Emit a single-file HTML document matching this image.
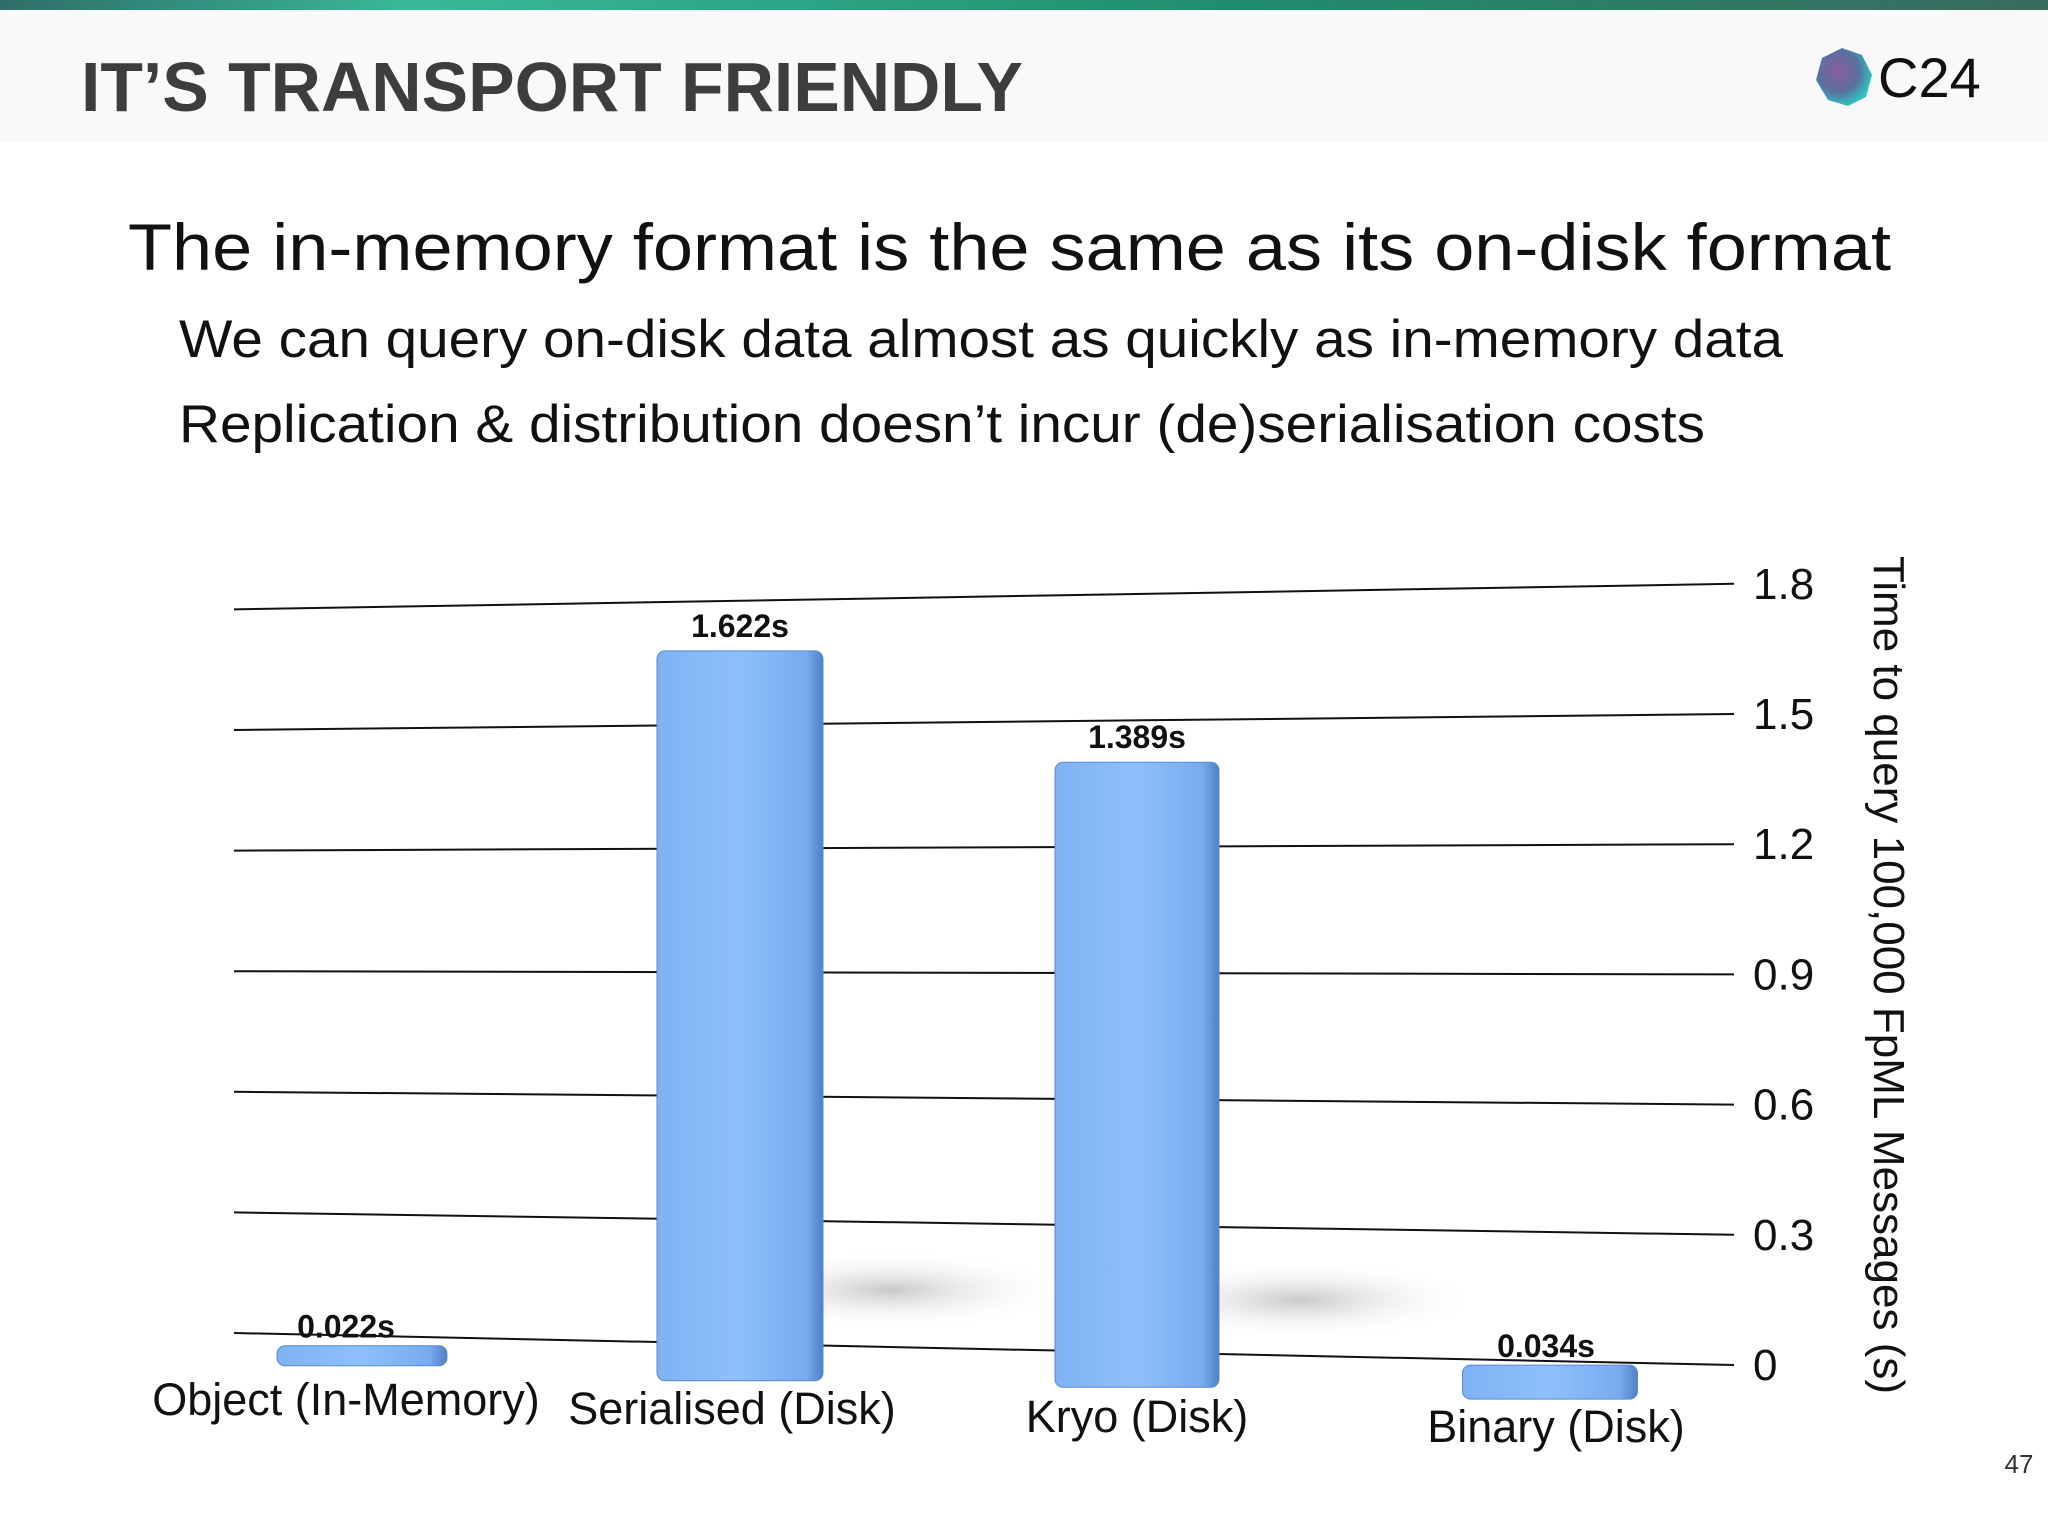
<!DOCTYPE html>
<html><head><meta charset="utf-8"><style>
html,body{margin:0;padding:0;width:2048px;height:1536px;background:#fff;overflow:hidden;font-family:"Liberation Sans",sans-serif}
</style></head><body>
<svg width="2048" height="1536" viewBox="0 0 2048 1536" xmlns="http://www.w3.org/2000/svg">
<defs>
<linearGradient id="topbar" x1="0" x2="1"><stop offset="0" stop-color="#2f6e66"/><stop offset="0.2" stop-color="#3ab89a"/><stop offset="0.6" stop-color="#1f8e6c"/><stop offset="1" stop-color="#3b6a5e"/></linearGradient>
<linearGradient id="barg" x1="0" x2="1"><stop offset="0" stop-color="#7fb2f4"/><stop offset="0.5" stop-color="#8dc0fb"/><stop offset="0.9" stop-color="#78aaf0"/><stop offset="1" stop-color="#4f7fc4"/></linearGradient>
<radialGradient id="logo" cx="0.4" cy="0.4" r="0.6"><stop offset="0" stop-color="#8a5fa0"/><stop offset="0.6" stop-color="#5a6fa0"/><stop offset="1" stop-color="#2fc0c0"/></radialGradient>
<radialGradient id="shadow" cx="0.5" cy="0.5" r="0.5"><stop offset="0" stop-color="#c8c8c8"/><stop offset="1" stop-color="#fff" stop-opacity="0"/></radialGradient>
</defs>
<rect x="0" y="0" width="2048" height="142" fill="#f9f9fb"/>
<rect x="0" y="0" width="2048" height="10" fill="url(#topbar)"/>
<text x="81" y="111" font-size="70" font-weight="bold" fill="#3d3d3f" textLength="942" lengthAdjust="spacingAndGlyphs">IT’S TRANSPORT FRIENDLY</text>
<g>
<polygon points="1842,48 1862,55 1872,75 1866,97 1848,106 1828,100 1816,80 1822,58" fill="url(#logo)"/>
<text x="1878" y="97" font-size="56" fill="#111">C24</text>
</g>
<text x="128" y="270" font-size="66" fill="#111" textLength="1763" lengthAdjust="spacingAndGlyphs">The in-memory format is the same as its on-disk format</text>
<text x="179" y="357" font-size="53" fill="#111" textLength="1604" lengthAdjust="spacingAndGlyphs">We can query on-disk data almost as quickly as in-memory data</text>
<text x="179" y="442" font-size="53" fill="#111" textLength="1526" lengthAdjust="spacingAndGlyphs">Replication &amp; distribution doesn’t incur (de)serialisation costs</text>
<g id="chart"></g>
<text x="2019" y="1473" font-size="26" fill="#333" text-anchor="middle">47</text>
</svg>
<script>
const categories=["Object (In-Memory)","Serialised (Disk)","Kryo (Disk)","Binary (Disk)"];
const values=[0.022,1.622,1.389,0.034];
const valueLabels=["0.022s","1.622s","1.389s","0.034s"];
const ticks=[0,0.3,0.6,0.9,1.2,1.5,1.8];
const tickLabels=["0","0.3","0.6","0.9","1.2","1.5","1.8"];
const NS="http://www.w3.org/2000/svg";
const g=document.getElementById('chart');
function mk(t,a){const e=document.createElementNS(NS,t);for(const k in a)e.setAttribute(k,a[k]);g.appendChild(e);return e;}
const XL=234,XR=1734;
function yLeft(v){return 1333-v*402;}
function yRight(v){return 1365-v*434;}
function yAt(v,x){const t=(x-XL)/(XR-XL);return yLeft(v)+(yRight(v)-yLeft(v))*t;}
const PXU=450;
[[890,1290],[1300,1300]].forEach(p=>{const s=mk('ellipse',{cx:p[0],cy:p[1],rx:180,ry:40,fill:'url(#shadow)'});

});
ticks.forEach((v,i)=>{
 const l=mk('line',{x1:XL,y1:yLeft(v),x2:XR,y2:yRight(v),stroke:'#111','stroke-width':2});
 
 
 const t=mk('text',{x:1753,y:yRight(v)+15,'font-size':44,fill:'#111'});
 t.textContent=tickLabels[i];
 
 
});
const centers=[362,740,1137,1550];
const widths=[170,166,164,175];
const baseOff=[30,37,35,38];
const minH=[20,20,20,34];
categories.forEach((c,i)=>{
 const cx=centers[i],w=widths[i];
 const base=yAt(0,cx)+baseOff[i];
 const h=Math.max(values[i]*PXU,minH[i]);
 const r=mk('rect',{x:cx-w/2,y:base-h,width:w,height:h,rx:8,fill:'url(#barg)',stroke:'#5a8ad0','stroke-width':1});
 
 
 const vl=mk('text',{x:cx-(i==0?16:i==3?4:0),y:base-h-(i==0||i==3?8:14),'font-size':32,'font-weight':'bold',fill:'#111','text-anchor':'middle'});
 vl.textContent=valueLabels[i];
 
 
 const cl=mk('text',{x:cx-(i==0?16:i==1?8:i==3?-6:0),y:[1415,1424,1432,1442][i],'font-size':45,fill:'#111','text-anchor':'middle'});
 cl.textContent=c;
 
 
});
const at=mk('text',{x:0,y:0,'font-size':44,fill:'#111','text-anchor':'middle',transform:'translate(1874,975) rotate(90)'});
at.textContent="Time to query 100,000 FpML Messages (s)";


</script>
</body></html>
